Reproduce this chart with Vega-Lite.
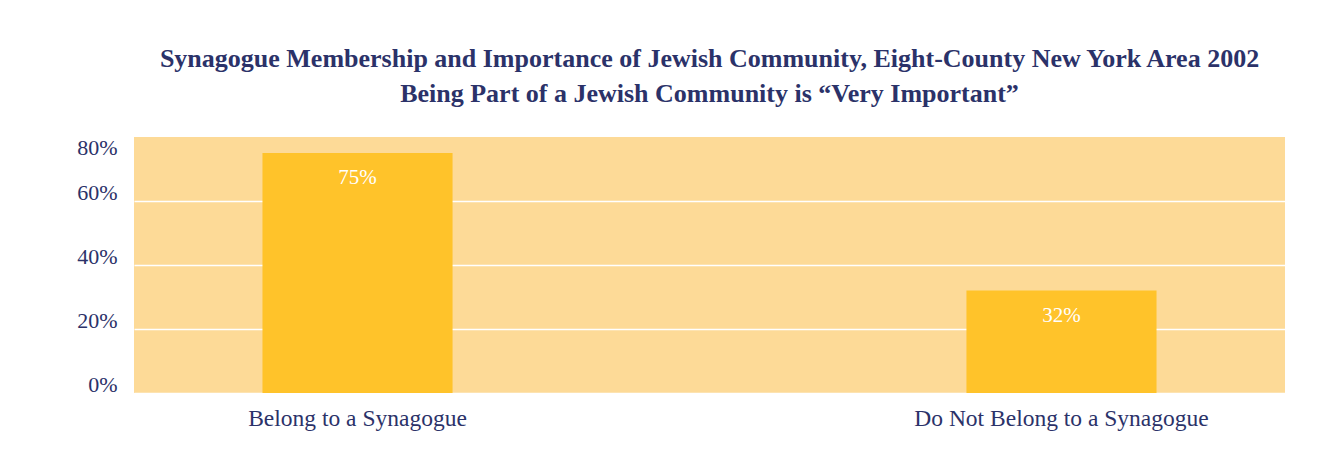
{
  "$schema": "https://vega.github.io/schema/vega-lite/v6.json",
  "width": 1151,
  "height": 256,
  "autosize": {"type": "none"},
  "padding": {"left": 134, "top": 137, "right": 59, "bottom": 61},
  "background": "white",
  "title": {
    "text": ["Synagogue Membership and Importance of Jewish Community, Eight-County New York Area 2002", "Being Part of a Jewish Community is “Very Important”"],
    "font": "Liberation Serif",
    "fontSize": 26,
    "fontWeight": "bold",
    "color": "#2B3269",
    "lineHeight": 35,
    "anchor": "middle",
    "offset": 29
  },
  "config": {
    "view": {"fill": "#FDDA97", "stroke": null}
  },
  "data": {
    "values": [
      {"group": "Belong to a Synagogue", "value": 75, "label": "75%"},
      {"group": "Do Not Belong to a Synagogue", "value": 32, "label": "32%"}
    ]
  },
  "encoding": {
    "x": {
      "field": "group",
      "type": "nominal",
      "sort": null,
      "scale": {"paddingInner": 0.73, "paddingOuter": 0.1825},
      "axis": {
        "title": null,
        "labelAngle": 0,
        "labelLimit": 0,
        "domain": false,
        "ticks": false,
        "labelFont": "Liberation Serif",
        "labelFontSize": 23.5,
        "labelColor": "#2B3269",
        "labelPadding": 13
      }
    },
    "y": {
      "field": "value",
      "type": "quantitative",
      "scale": {"domain": [0, 80], "nice": false},
      "axis": {
        "title": null,
        "values": [0, 20, 40, 60, 80],
        "format": "d",
        "labelExpr": "datum.value + '%'",
        "domain": false,
        "ticks": false,
        "labelFont": "Liberation Serif",
        "labelFontSize": 22,
        "labelColor": "#2B3269",
        "labelPadding": 17,
        "labelBaseline": "middle",
        "labelOffset": {"condition": {"test": "datum.value == 80", "value": 10}, "value": -9},
        "gridColor": "white",
        "gridWidth": 1.5,
        "gridOpacity": {"condition": {"test": "datum.value == 80", "value": 0}, "value": 1}
      }
    }
  },
  "layer": [
    {"mark": {"type": "bar", "color": "#FFC32A"}},
    {
      "mark": {"type": "text", "color": "white", "font": "Liberation Serif", "fontSize": 21, "baseline": "middle", "dy": 25},
      "encoding": {"text": {"field": "label"}}
    }
  ]
}
